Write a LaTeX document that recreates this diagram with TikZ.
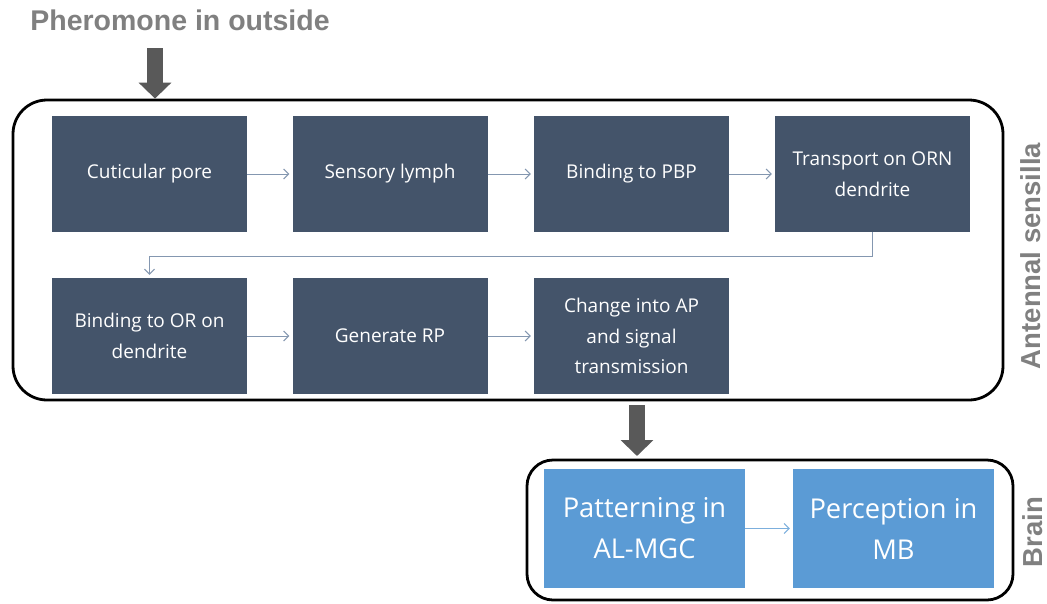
\documentclass[tikz,border=0pt]{standalone}
\usepackage{fontspec}
\setmainfont{Open Sans}
\newfontfamily\boldlab{Liberation Sans}
\usetikzlibrary{arrows.meta}
\definecolor{darkbox}{HTML}{44546A}
\definecolor{lightbox}{HTML}{5B9BD5}
\definecolor{thinarr}{HTML}{8497B0}
\definecolor{bigarr}{HTML}{595959}
\definecolor{labgray}{HTML}{808080}
\begin{document}
\begin{tikzpicture}[x=1pt,y=-1pt,
  stepbox/.style={fill=darkbox, text=white, minimum width=195pt, minimum height=116pt, inner sep=0pt, align=center, font=\fontsize{19}{30.5}\selectfont},
  brainbox/.style={fill=lightbox, text=white, minimum width=201pt, minimum height=119pt, inner sep=0pt, align=center, font=\fontsize{27.3}{41}\selectfont},
  container/.style={draw=black, line width=2.8pt, rounded corners=34pt, inner sep=0pt},
  flow/.style={draw=thinarr, line width=1pt, -{Straight Barb[length=5pt,width=10pt]}, shorten >=3pt},
  bflow/.style={draw=lightbox!80!white, line width=1pt, -{Straight Barb[length=5pt,width=10pt]}, shorten >=3pt},
  fat/.style={draw=bigarr, line width=16pt, -{Triangle[length=16pt,width=32pt]}},
  sidelab/.style={text=labgray, font=\boldlab\bfseries\fontsize{27.5}{30}\selectfont, rotate=90, inner sep=0pt}
]
\useasboundingbox (0,0) rectangle (1047,603);

\node[text=labgray, font=\boldlab\bfseries\fontsize{28.5}{30}\selectfont, inner sep=0pt] (title) at (180,20) {Pheromone in outside};

\node[container, minimum width=990pt, minimum height=300pt] (ant) at (508,250) {};
\node[container, rounded corners=26pt, minimum width=486pt, minimum height=140pt] (brain) at (770,530) {};

\coordinate (a1s) at (155,48);
\draw[fat] (a1s) -- (ant.north -| a1s);
\coordinate (a2s) at (637,405);
\coordinate (a2e) at (637,456);
\draw[fat] (a2s) -- (a2e);

\node[stepbox] (b1) at (149.5,174) {Cuticular pore};
\node[stepbox] (b2) at (390,174) {Sensory lymph};
\node[stepbox] (b3) at (631.5,174) {Binding to PBP};
\node[stepbox] (b4) at (872.5,174) {Transport on ORN\\dendrite};
\node[stepbox] (b5) at (149.5,336) {Binding to OR on\\dendrite};
\node[stepbox] (b6) at (390,336) {Generate RP};
\node[stepbox] (b7) at (631.5,336) {Change into AP\\and signal\\transmission};

\draw[flow] (b1) -- (b2);
\draw[flow] (b2) -- (b3);
\draw[flow] (b3) -- (b4);
\draw[flow] (b4.south) -- ++(0,24) -| (b5.north);
\draw[flow] (b5) -- (b6);
\draw[flow] (b6) -- (b7);

\node[brainbox] (b8) at (644.5,528.5) {Patterning in\\AL-MGC};
\node[brainbox] (b9) at (893.5,528.5) {Perception in\\MB};
\draw[bflow] (b8) -- (b9);

\node[sidelab] (lab1) at (1031,256) {Antennal sensilla};
\node[sidelab] (lab2) at (1033,532) {Brain};
\end{tikzpicture}
\end{document}
